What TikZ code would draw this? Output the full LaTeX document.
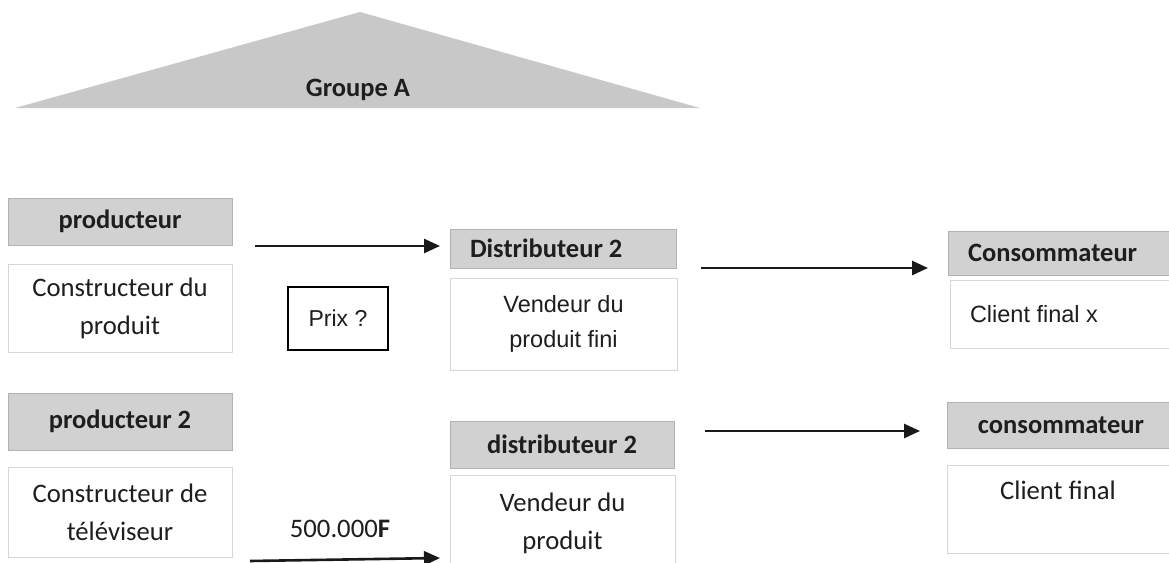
\documentclass[tikz,border=0pt]{standalone}
\usepackage{fontspec}
\setmainfont{Carlito}
\newfontfamily\arialf{Liberation Sans}
\usetikzlibrary{arrows.meta}
\definecolor{hdrc}{HTML}{D1D1D1}
\definecolor{tric}{HTML}{C8C8C8}
\definecolor{bxc}{HTML}{D6D6D6}
\definecolor{txt}{HTML}{1E1E1E}
\begin{document}
\begin{tikzpicture}[x=1pt,y=-1pt,
  hdr/.style={rectangle, fill=hdrc, draw=hdrc!85!black, line width=0.5pt, inner sep=0pt, text=txt,
    font=\fontsize{26.5}{30}\selectfont\bfseries},
  hdrL/.style={hdr, align=flush left, inner xsep=20pt},
  bx/.style={rectangle, fill=white, draw=bxc, line width=1pt, inner sep=0pt, text=txt, align=center,
    font=\fontsize{26.7}{38}\selectfont},
  bxA/.style={bx, font=\arialf\fontsize{23.5}{35}\selectfont},
  prixbox/.style={rectangle, draw=black, line width=1.3pt, inner sep=0pt, text=txt,
    font=\arialf\fontsize{23}{28}\selectfont},
  lbl/.style={inner sep=0pt, text=txt},
  arr/.style={draw=black!90, line width=2.6pt, -{Triangle[length=16pt,width=14pt]}}
]
\fill[white] (0,0) rectangle (1169,562);
\useasboundingbox (0,0) rectangle (1169,562);

% Groupe A
\fill[tric] (15,108) -- (360,12) -- (700,108) -- cycle;
\node[lbl, font=\fontsize{26.5}{30}\selectfont\bfseries] (grp) at (358,90) {Groupe A};

% Row 1
\node[hdr, minimum width=224pt, minimum height=47pt] (h1) at (120,221.5) {producteur};
\node[bx, minimum width=224pt, minimum height=88pt] (b1) at (120,308) {Constructeur du\\produit};
\node[prixbox, minimum width=100pt, minimum height=63pt] (prix) at (338,318.5) {Prix ?};
\node[hdrL, minimum width=226pt, minimum height=39pt, text width=186pt] (h2) at (563,248.5) {Distributeur 2};
\node[bxA, minimum width=227pt, minimum height=92pt] (b2) at (563.5,324) {Vendeur du\\produit fini};
\node[hdrL, minimum width=227pt, minimum height=44pt, text width=187pt] (h3) at (1061.5,253) {Consommateur};
\node[bxA, minimum width=225pt, minimum height=68pt, text width=185pt, align=flush left, inner xsep=20pt] (b3) at (1062.5,314) {Client final x};

% Row 2
\node[hdr, minimum width=224pt, minimum height=57pt] (h4) at (120,421.5) {producteur 2};
\node[bx, minimum width=224pt, minimum height=90pt] (b4) at (120,512) {Constructeur de\\téléviseur};
\node[lbl, font=\fontsize{26.7}{30}\selectfont] (price) at (340,529) {500.000\textbf{F}};
\node[hdr, minimum width=224pt, minimum height=47pt] (h5) at (562,444.5) {distributeur 2};
\node[bx, minimum width=225pt, minimum height=97pt] (b5) at (562.5,523.5) {Vendeur du\\produit};
\node[hdr, minimum width=228pt, minimum height=46pt] (h6) at (1061,425) {consommateur};
\node[bx, minimum width=228pt, minimum height=88pt] (b6) at (1061,509) {};
\node[lbl, font=\fontsize{26.7}{30}\selectfont] (b6t) at (1058,490) {Client final};

% Arrows
\coordinate (a1s) at (255,246);
\coordinate (a1e) at (440,246);
\coordinate (a2s) at (701,268);
\coordinate (a2e) at (928,268);
\coordinate (a3s) at (705,431);
\coordinate (a3e) at (920,431);
\coordinate (a4s) at (250,561);
\coordinate (a4e) at (440,558);
\draw[arr] (a1s) -- (a1e);
\draw[arr] (a2s) -- (a2e);
\draw[arr] (a3s) -- (a3e);
\draw[arr] (a4s) -- (a4e);
\end{tikzpicture}
\end{document}
